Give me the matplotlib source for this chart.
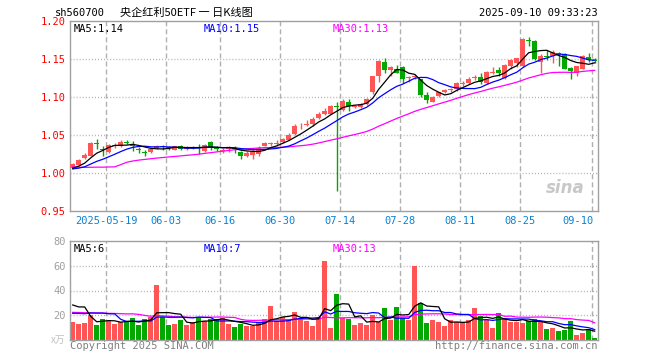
import matplotlib
matplotlib.use('Agg')
import matplotlib.pyplot as plt
import matplotlib.transforms as mtransforms
import numpy as np
import pandas as pd

plt.rcParams['lines.scale_dashes'] = False

MONO = 'DejaVu Sans Mono'
CJK = ['Noto Sans CJK SC', 'DejaVu Sans']

# 日K数据 (2025-05-09 .. 2025-09-10)
opens = [1.007, 1.011, 1.020, 1.023, 1.039, 1.032, 1.028, 1.035, 1.035, 1.041,
         1.038, 1.031, 1.028, 1.028, 1.033, 1.035, 1.034, 1.031, 1.036, 1.032,
         1.033, 1.034, 1.029, 1.041, 1.033, 1.029, 1.032, 1.033, 1.028, 1.022,
         1.024, 1.025, 1.036, 1.038, 1.038, 1.041, 1.044, 1.052, 1.060, 1.063,
         1.065, 1.073, 1.077, 1.078, 1.088, 1.083, 1.094, 1.087, 1.087, 1.091,
         1.106, 1.127, 1.146, 1.135, 1.137, 1.139, 1.125, 1.126, 1.123, 1.102,
         1.094, 1.101, 1.106, 1.109, 1.110, 1.117, 1.118, 1.125, 1.126, 1.118,
         1.131, 1.135, 1.125, 1.141, 1.145, 1.140, 1.174, 1.173, 1.146, 1.154,
         1.154, 1.157, 1.156, 1.138, 1.132, 1.137, 1.153, 1.149]
highs = [1.013, 1.018, 1.026, 1.041, 1.045, 1.036, 1.038, 1.039, 1.044, 1.043,
         1.042, 1.034, 1.031, 1.033, 1.037, 1.037, 1.036, 1.036, 1.037, 1.035,
         1.035, 1.038, 1.038, 1.042, 1.036, 1.033, 1.036, 1.035, 1.029, 1.029,
         1.032, 1.035, 1.041, 1.041, 1.044, 1.046, 1.053, 1.064, 1.066, 1.070,
         1.074, 1.080, 1.085, 1.089, 1.094, 1.097, 1.097, 1.090, 1.092, 1.098,
         1.128, 1.148, 1.151, 1.140, 1.142, 1.141, 1.128, 1.130, 1.124, 1.106,
         1.101, 1.107, 1.111, 1.112, 1.120, 1.121, 1.126, 1.129, 1.131, 1.134,
         1.139, 1.139, 1.143, 1.150, 1.151, 1.177, 1.179, 1.175, 1.156, 1.161,
         1.161, 1.159, 1.158, 1.139, 1.141, 1.155, 1.157, 1.151]
lows = [1.005, 1.010, 1.019, 1.022, 1.032, 1.023, 1.027, 1.033, 1.034, 1.038,
        1.029, 1.026, 1.023, 1.027, 1.032, 1.030, 1.030, 1.030, 1.031, 1.031,
        1.032, 1.025, 1.028, 1.030, 1.029, 1.026, 1.028, 1.027, 1.018, 1.021,
        1.018, 1.022, 1.035, 1.036, 1.035, 1.040, 1.043, 1.050, 1.058, 1.062,
        1.062, 1.071, 1.076, 1.077, 0.976, 1.081, 1.082, 1.085, 1.086, 1.090,
        1.104, 1.120, 1.131, 1.128, 1.131, 1.118, 1.119, 1.123, 1.100, 1.092,
        1.093, 1.100, 1.105, 1.106, 1.108, 1.115, 1.117, 1.122, 1.117, 1.117,
        1.130, 1.127, 1.124, 1.137, 1.139, 1.139, 1.167, 1.149, 1.132, 1.149,
        1.145, 1.141, 1.136, 1.124, 1.128, 1.136, 1.146, 1.145]
closes = [1.012, 1.017, 1.024, 1.040, 1.038, 1.030, 1.037, 1.037, 1.041, 1.039,
          1.035, 1.030, 1.027, 1.032, 1.036, 1.034, 1.033, 1.035, 1.032, 1.034,
          1.034, 1.033, 1.037, 1.034, 1.032, 1.031, 1.034, 1.032, 1.022, 1.027,
          1.028, 1.033, 1.040, 1.039, 1.039, 1.045, 1.050, 1.062, 1.061, 1.064,
          1.071, 1.078, 1.082, 1.088, 1.087, 1.095, 1.088, 1.088, 1.091, 1.097,
          1.127, 1.147, 1.135, 1.139, 1.132, 1.124, 1.126, 1.127, 1.102, 1.096,
          1.100, 1.106, 1.109, 1.110, 1.118, 1.118, 1.124, 1.126, 1.119, 1.133,
          1.132, 1.131, 1.142, 1.148, 1.151, 1.176, 1.173, 1.150, 1.154, 1.153,
          1.159, 1.156, 1.137, 1.134, 1.140, 1.154, 1.149, 1.147]
# 成交量 (万)
volumes = [14.9, 13.1, 13.9, 20.3, 12.3, 17.1, 15.5, 13.1, 14.7, 15.5,
           17.9, 12.3, 17.1, 18.7, 44.3, 18.7, 12.3, 13.3, 16.3, 12.3,
           14.9, 18.1, 15.5, 17.1, 17.1, 18.1, 13.1, 10.7, 13.1, 11.7,
           11.7, 14.7, 17.1, 27.5, 15.5, 18.9, 17.1, 22.7, 17.9, 15.5,
           11.5, 18.7, 63.5, 9.9, 37.3, 17.6, 17.1, 12.3, 13.9, 12.3,
           20.3, 14.7, 25.9, 16.3, 26.7, 18.1, 16.3, 59.5, 29.9, 13.9,
           16.3, 14.7, 11.5, 16.3, 14.7, 14.7, 16.3, 25.9, 19.5, 16.3,
           9.9, 21.9, 17.9, 14.7, 14.7, 13.9, 15.5, 17.1, 14.7, 9.1,
           9.9, 7.5, 8.3, 15.5, 4.3, 5.9, 9.1, 1.6]

# 图表区间之前的29个交易日 (只用于均线)
pre_closes = [1.030, 1.033, 1.035, 1.032, 1.031, 1.030, 1.032, 0.955, 0.945, 0.985,
              0.995, 1.000, 1.005, 1.010, 1.012, 1.010, 1.015, 1.012, 1.010, 1.015,
              1.008, 1.006, 1.004, 1.003, 1.003, 1.004, 1.004, 1.006, 1.007]
pre_volumes = [16, 19, 22, 17, 18, 24, 15, 20, 21, 17,
               25, 42, 38, 30, 24, 22, 26, 20, 18, 22,
               14, 16, 15, 13, 17, 21, 14, 58, 34]

tick_idx = [6, 16, 25, 35, 45, 55, 65, 75, 87]
tick_labels = ['2025-05-19', '06-03', '06-16', '06-30', '07-14',
               '07-28', '08-11', '08-25', '09-10']
price_ticks = [1.20, 1.15, 1.10, 1.05, 1.00, 0.95]
vol_ticks = [80, 60, 40, 20]

RED = '#ff5555'
GREEN = '#00a800'
GRID = '#b0b0b0'
SPINE = '#a0a0a0'
DATE_BLUE = '#0a82d2'

n = len(closes)
x = np.arange(n)
o = np.array(opens)
c = np.array(closes)
up = c >= o
colors = [RED if u else GREEN for u in up]

all_close = pd.Series(pre_closes + closes)
all_vol = pd.Series(pre_volumes + volumes)
npre = len(pre_closes)
ma = {k: all_close.rolling(k).mean().values[npre:] for k in (5, 10, 30)}
vma = {k: all_vol.rolling(k).mean().values[npre:] for k in (5, 10, 30)}

fig = plt.figure(figsize=(6.6, 3.6), dpi=100)
W, H = 660.0, 360.0
ax1 = fig.add_axes([70 / W, 1 - 211.3 / H, 528 / W, 190.6 / H])
ax2 = fig.add_axes([70 / W, 1 - 340.3 / H, 528 / W, 99.6 / H])

xlim = (-0.45, n - 0.45)
for ax in (ax1, ax2):
    ax.set_xlim(*xlim)
    ax.set_xticks([])
    for s in ax.spines.values():
        s.set_color(SPINE)
        s.set_linewidth(1.0)
    for t in tick_idx:
        ax.axvline(t - 0.4, color=GRID, lw=1.0, dashes=(3.6, 2.2), zorder=0)

# price panel
ax1.set_ylim(0.95, 1.20)
for yv in [1.00, 1.05, 1.10, 1.15]:
    ax1.axhline(yv, color=GRID, lw=1.0, dashes=(0.7, 1.5), zorder=0)
ax1.set_yticks(price_ticks)
ax1.set_yticklabels(['%.2f' % v for v in price_ticks])
ax1.tick_params(axis='y', length=0, pad=3, labelcolor='red', labelsize=7.5)
for lab in ax1.get_yticklabels():
    lab.set_family(MONO)

ax1.vlines(x, lows, highs, colors=colors, lw=1.0, zorder=2)
body = np.maximum(np.abs(c - o), 0.0011)
ax1.bar(x, body, bottom=np.minimum(o, c), width=0.8, color=colors,
        linewidth=0, zorder=3)
ax1.plot(x, ma[30], color='#ff00ff', lw=0.9, zorder=4)
ax1.plot(x, ma[10], color='#0000ff', lw=0.9, zorder=4)
ax1.plot(x, ma[5], color='black', lw=0.9, zorder=4)

ax1.text(0.006, 0.985, 'MA5:1.14', transform=ax1.transAxes, color='black',
         family=MONO, fontsize=7.5, va='top')
ax1.text(0.254, 0.985, 'MA10:1.15', transform=ax1.transAxes, color='blue',
         family=MONO, fontsize=7.5, va='top')
ax1.text(0.497, 0.985, 'MA30:1.13', transform=ax1.transAxes, color='#ff00ff',
         family=MONO, fontsize=7.5, va='top')

trans = mtransforms.blended_transform_factory(ax1.transData, ax1.transAxes)
for t, lab in zip(tick_idx, tick_labels):
    ha = 'right' if t == tick_idx[-1] else 'center'
    ax1.text(t - 0.4 + (0.3 if ha == 'right' else 0), -0.052, lab,
             transform=trans, ha=ha, va='center', color=DATE_BLUE,
             family=MONO, fontsize=7.5)

ax1.text(0.975, 0.12, 'sina', transform=ax1.transAxes, ha='right',
         va='center', color='#c8c8c8', fontsize=12, fontweight='bold',
         style='italic', family='DejaVu Sans', zorder=1)

# volume panel
ax2.set_ylim(0, 80)
for yv in [20, 40, 60]:
    ax2.axhline(yv, color=GRID, lw=1.0, dashes=(0.7, 1.5), zorder=0)
ax2.set_yticks(vol_ticks)
ax2.set_yticklabels([str(v) for v in vol_ticks])
ax2.tick_params(axis='y', length=0, pad=3, labelcolor='#a0a0a0', labelsize=7.5)
for lab in ax2.get_yticklabels():
    lab.set_family(MONO)
ax2.text(-0.008, 0.0, 'x万', transform=ax2.transAxes, ha='right', va='center',
         color='#c0c0c0', family=CJK, fontsize=7)

ax2.bar(x, volumes, width=0.8, color=colors, linewidth=0, zorder=2)
ax2.plot(x, vma[30], color='#ff00ff', lw=0.9, zorder=4)
ax2.plot(x, vma[10], color='#0000ff', lw=0.9, zorder=4)
ax2.plot(x, vma[5], color='black', lw=0.9, zorder=4)

ax2.text(0.006, 0.965, 'MA5:6', transform=ax2.transAxes, color='black',
         family=MONO, fontsize=7.5, va='top')
ax2.text(0.254, 0.965, 'MA10:7', transform=ax2.transAxes, color='blue',
         family=MONO, fontsize=7.5, va='top')
ax2.text(0.497, 0.965, 'MA30:13', transform=ax2.transAxes, color='#ff00ff',
         family=MONO, fontsize=7.5, va='top')

# header / footer
fig.text(55 / W, 1 - 13 / H, 'sh560700', family=MONO, fontsize=7.5,
         color='black', va='center')
fig.text(120 / W, 1 - 13 / H, '央企红利50ETF 一 日K线图', family=CJK,
         fontsize=8, color='black', va='center')
fig.text(598 / W, 1 - 13 / H, '2025-09-10 09:33:23', family=MONO,
         fontsize=7.5, color='black', va='center', ha='right')
fig.text(70 / W, 1 - 346 / H, 'Copyright 2025 SINA.COM', family=MONO,
         fontsize=7.5, color='#808080', va='center')
fig.text(598 / W, 1 - 346 / H, 'http://finance.sina.com.cn', family=MONO,
         fontsize=7.5, color='#808080', va='center', ha='right')

fig.savefig('out.png', dpi=100)
